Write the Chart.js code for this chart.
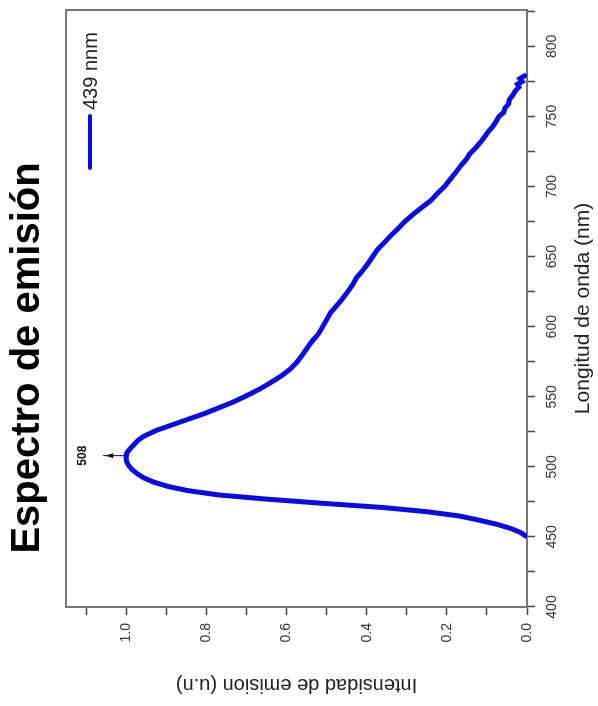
<!DOCTYPE html>
<html>
<head>
<meta charset="utf-8">
<title>Espectro de emisión</title>
<script src="https://cdn.jsdelivr.net/npm/chart.js@4.4.1/dist/chart.umd.min.js"></script>
<style>
  html, body { margin: 0; padding: 0; background: #fff; overflow: hidden; }
  /* the figure is drawn upright, then turned a quarter turn like the scan */
  #wrap {
    position: absolute; left: 0; top: 706px;
    width: 706px; height: 598px;
    transform-origin: 0 0; transform: rotate(-90deg);
  }
</style>
</head>
<body>
<div id="wrap"><canvas id="context" width="706" height="598"></canvas></div>
<script>
// emission spectrum, excitation 439 nm
const wavelengths = [
  450, 453, 456, 459, 462, 465, 468, 471, 474, 477,
  480, 483, 486, 489, 492, 495, 498, 501, 504, 507,
  510, 513, 516, 519, 522, 526, 530, 534, 538, 542,
  546, 550, 555, 560, 565, 570, 575, 580, 585, 590,
  595, 600, 605, 610, 615, 620, 625, 630, 635, 640,
  645, 650, 655, 660, 665, 670, 675, 680, 685, 690,
  695, 700, 705, 710, 715, 720, 723, 727, 730, 733,
  737, 740, 743, 747, 750, 753, 756, 759, 762, 765,
  768, 771, 773, 775, 777, 779, 780
];
const intensities = [
  0.000, 0.015, 0.040, 0.075, 0.120, 0.170, 0.250, 0.360, 0.510, 0.650,
  0.770, 0.845, 0.895, 0.930, 0.955, 0.972, 0.985, 0.994, 0.999, 1.000,
  0.998, 0.990, 0.980, 0.970, 0.955, 0.925, 0.885, 0.845, 0.805, 0.770,
  0.735, 0.705, 0.670, 0.640, 0.612, 0.590, 0.573, 0.560, 0.548, 0.535,
  0.520, 0.510, 0.500, 0.490, 0.475, 0.460, 0.447, 0.435, 0.425, 0.410,
  0.397, 0.385, 0.373, 0.356, 0.340, 0.322, 0.305, 0.285, 0.263, 0.240,
  0.224, 0.206, 0.192, 0.178, 0.165, 0.150, 0.144, 0.130, 0.121, 0.112,
  0.102, 0.094, 0.085, 0.076, 0.070, 0.058, 0.055, 0.046, 0.044, 0.036,
  0.030, 0.020, 0.024, 0.012, 0.018, 0.006, 0.010
];
const seriesLabel = '439 nnm';
const peakWavelength = 508;
const peakIntensity = 1.0;
const peakLabel = '508';

const FONT = "'Liberation Sans', Arial, sans-serif";
const BLUE = '#0a0ae6';

/**
 * Draws the closed frame around the plot area
 */
const framePlugin = {
  id: 'frame',
  beforeDatasetsDraw(chart) {
    const {ctx, chartArea: a} = chart;
    ctx.save();
    ctx.strokeStyle = '#777';
    ctx.lineWidth = 2;
    ctx.strokeRect(a.left, a.top, a.right - a.left, a.bottom - a.top);
    ctx.restore();
  }
};

/**
 * Legend inside the plot (top right) and the peak marker
 */
const notesPlugin = {
  id: 'notes',
  afterDraw(chart) {
    const {ctx, chartArea: a, scales} = chart;
    ctx.save();

    // legend sample line + text
    ctx.strokeStyle = BLUE;
    ctx.lineWidth = 4;
    ctx.lineCap = 'round';
    ctx.beginPath();
    ctx.moveTo(a.right - 158, a.top + 24);
    ctx.lineTo(a.right - 106, a.top + 24);
    ctx.stroke();
    ctx.fillStyle = '#222';
    ctx.font = '20px ' + FONT;
    ctx.textAlign = 'left';
    ctx.textBaseline = 'middle';
    ctx.fillText(seriesLabel, a.right - 100, a.top + 25);

    // peak arrow + label
    const px = scales.x.getPixelForValue(peakWavelength);
    const py = scales.y.getPixelForValue(peakIntensity);
    ctx.strokeStyle = '#111';
    ctx.lineWidth = 1;
    ctx.lineCap = 'butt';
    ctx.beginPath();
    ctx.moveTo(px, py - 2);
    ctx.lineTo(px, py - 23);
    ctx.stroke();
    ctx.fillStyle = '#111';
    ctx.beginPath();
    ctx.moveTo(px, py - 21);
    ctx.lineTo(px - 2.5, py - 13);
    ctx.lineTo(px + 2.5, py - 13);
    ctx.closePath();
    ctx.fill();
    ctx.font = 'bold 12px ' + FONT;
    ctx.textAlign = 'center';
    ctx.fillText(peakLabel, px, py - 43);

    ctx.restore();
  }
};

function init() {
  const ctx = document.getElementById('context');

  const data = {
    datasets: [{
      label: seriesLabel,
      data: wavelengths.map((w, i) => ({x: w, y: intensities[i]})),
      borderColor: BLUE,
      borderWidth: 5,
      pointRadius: 0,
      tension: 0,
      fill: false
    }]
  };

  new Chart(ctx, {
    type: 'line',
    data,
    plugins: [framePlugin, notesPlugin],
    options: {
      responsive: false,
      animation: false,
      devicePixelRatio: 1,
      layout: { padding: { top: 0, right: 10, bottom: 0, left: 0 } },
      plugins: {
        legend: { display: false },
        tooltip: { enabled: false },
        title: {
          display: true,
          text: 'Espectro de emisión',
          color: '#000',
          font: { family: FONT, size: 40, weight: 'bold' },
          padding: { top: 4, bottom: 14 }
        }
      },
      scales: {
        x: {
          type: 'linear',
          position: 'bottom',
          min: 400,
          max: 826,
          afterFit: s => { s.height = 71; },
          ticks: {
            stepSize: 25,
            includeBounds: false,
            autoSkip: false,
            maxRotation: 0,
            padding: 9,
            color: '#333',
            font: { family: FONT, size: 14 },
            callback: v => (v % 50 === 0 ? String(v) : '')
          },
          grid: { drawOnChartArea: false, tickLength: 8, color: '#444', tickWidth: 1.5 },
          border: { color: '#444', width: 2 },
          title: {
            display: true,
            text: 'Longitud de onda (nm)',
            color: '#222',
            font: { family: FONT, size: 21 },
            padding: { top: 0, bottom: 2 }
          }
        },
        y: {
          min: 0,
          max: 1.15,
          afterFit: s => { s.width = 99; },
          ticks: {
            stepSize: 0.1,
            includeBounds: false,
            autoSkip: false,
            padding: 8,
            color: '#333',
            font: { family: FONT, size: 14 },
            callback: v => (Math.round(v * 10) % 2 === 0 ? v.toFixed(1) : '')
          },
          grid: { drawOnChartArea: false, tickLength: 8, color: '#444', tickWidth: 1.5 },
          border: { color: '#444', width: 2 },
          title: {
            display: true,
            text: 'Intensidad de emision (u.n)',
            color: '#222',
            font: { family: FONT, size: 20 },
            padding: { top: 9, bottom: 0 }
          }
        }
      }
    }
  });
}

init();
</script>
</body>
</html>
